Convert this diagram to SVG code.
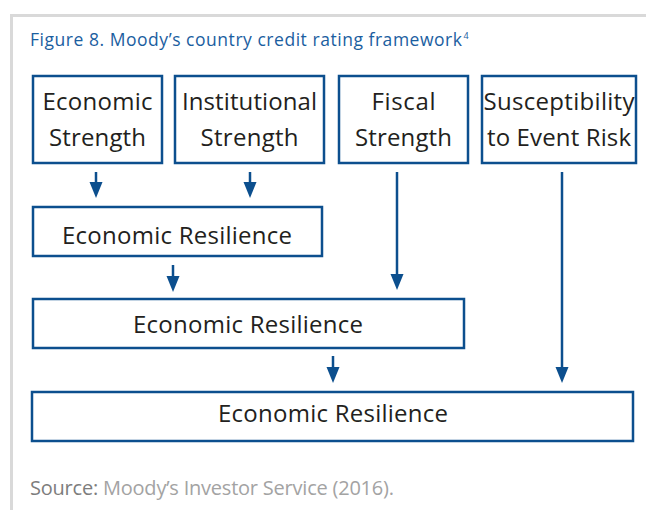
<svg xmlns="http://www.w3.org/2000/svg" width="646" height="510" viewBox="0 0 646 510">
  <style>
    .frame { fill: none; stroke: #d9d9d9; stroke-width: 3; }
    .box { fill: #ffffff; stroke: #0c4f8e; stroke-width: 2.5; }
    .lbl { font-family: "Open Sans", "Liberation Sans", sans-serif; font-size: 24px; fill: #231f20; text-anchor: middle; }
    .title { font-family: "Open Sans", "Liberation Sans", sans-serif; font-size: 17.5px; fill: #1b5e9f; }
    .sup { font-family: "Open Sans", "Liberation Sans", sans-serif; font-size: 9px; fill: #1b5e9f; }
    .src { font-family: "Open Sans", "Liberation Sans", sans-serif; font-size: 20px; fill: #a3a3a3; }
    .src-b { fill: #7d7d7d; }
    .conn line { stroke: #0c4f8e; stroke-width: 2.5; marker-end: url(#ah); }
  </style>
  <defs>
    <marker id="ah" viewBox="0 -7 16 14" refX="4" refY="0" markerWidth="16" markerHeight="14" markerUnits="userSpaceOnUse" orient="auto">
      <path d="M0,-6.5 L16,0 L0,6.5 Z" fill="#0c4f8e"/>
    </marker>
  </defs>
  <rect width="646" height="510" fill="#ffffff"/>
  <path class="frame" d="M11.5,510 V15.5 H646"/>

  <text class="title" x="30" y="46" textLength="432" lengthAdjust="spacing">Figure 8. Moody’s country credit rating framework</text>
  <text class="sup" x="463.5" y="39">4</text>

  <g id="economic-strength">
    <rect class="box" x="33" y="76" width="129" height="87"/>
    <text class="lbl" x="97.5" y="110" textLength="110" lengthAdjust="spacing">Economic</text>
    <text class="lbl" x="97.5" y="146" textLength="97" lengthAdjust="spacing">Strength</text>
  </g>
  <g id="institutional-strength">
    <rect class="box" x="175" y="76" width="149" height="87"/>
    <text class="lbl" x="249.5" y="110" textLength="135" lengthAdjust="spacing">Institutional</text>
    <text class="lbl" x="249.5" y="146" textLength="98" lengthAdjust="spacing">Strength</text>
  </g>
  <g id="fiscal-strength">
    <rect class="box" x="339" y="76" width="129" height="87"/>
    <text class="lbl" x="403.5" y="110" textLength="64" lengthAdjust="spacing">Fiscal</text>
    <text class="lbl" x="403.5" y="146" textLength="97" lengthAdjust="spacing">Strength</text>
  </g>
  <g id="event-risk">
    <rect class="box" x="482" y="76" width="154" height="87"/>
    <text class="lbl" x="559" y="110" textLength="151" lengthAdjust="spacing">Susceptibility</text>
    <text class="lbl" x="559" y="146" textLength="144" lengthAdjust="spacing">to Event Risk</text>
  </g>
  <g id="resilience-1">
    <rect class="box" x="33" y="207" width="289" height="49"/>
    <text class="lbl" x="177" y="244" textLength="230" lengthAdjust="spacing">Economic Resilience</text>
  </g>
  <g id="resilience-2">
    <rect class="box" x="33" y="299" width="431" height="49"/>
    <text class="lbl" x="248" y="333" textLength="230" lengthAdjust="spacing">Economic Resilience</text>
  </g>
  <g id="resilience-3">
    <rect class="box" x="32" y="392" width="601" height="49"/>
    <text class="lbl" x="333" y="422" textLength="230" lengthAdjust="spacing">Economic Resilience</text>
  </g>

  <g id="connectors" class="conn">
    <line x1="96" y1="172" x2="96" y2="186"/>
    <line x1="250" y1="172" x2="250" y2="186"/>
    <line x1="173" y1="265" x2="173" y2="280"/>
    <line x1="397" y1="172" x2="397" y2="278"/>
    <line x1="562" y1="172" x2="562" y2="371"/>
    <line x1="333" y1="356" x2="333" y2="371"/>
  </g>

  <text class="src" x="30" y="495" textLength="364" lengthAdjust="spacing"><tspan class="src-b">Source:</tspan> Moody’s Investor Service (2016).</text>
</svg>
